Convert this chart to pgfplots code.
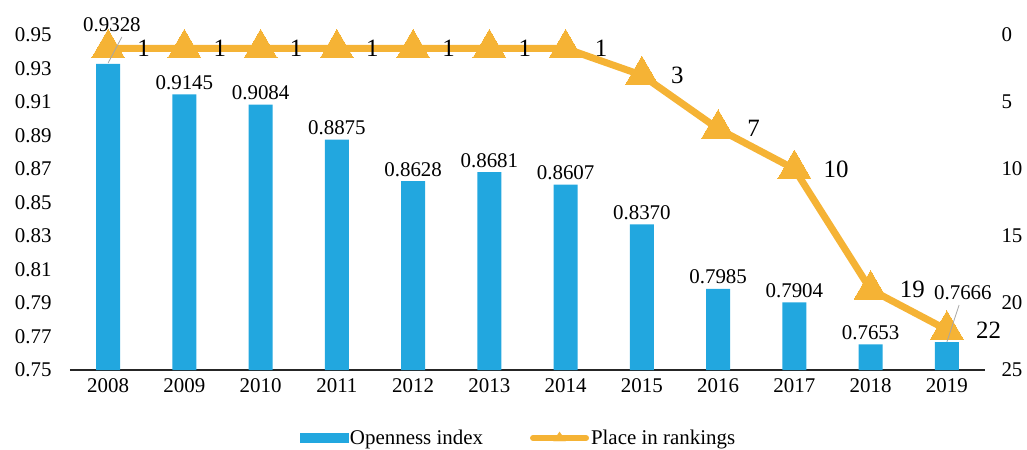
\documentclass[border=0pt]{standalone}
\usepackage{fontspec}
\setmainfont{Liberation Serif}
\usepackage{pgfplots}
\pgfplotsset{compat=1.18}
\definecolor{barblue}{HTML}{22A7DF}
\definecolor{rankorange}{HTML}{F5B335}

\begin{document}
\begin{tikzpicture}[font=\fontsize{21}{24}\selectfont]
\path[use as bounding box] (-70bp,-80bp) rectangle (957bp,370bp);
\clip (-70bp,-80bp) rectangle (957bp,370bp);

% bars: openness index (left axis)
\begin{axis}[
  name=ax, at={(0,0)}, anchor=south west,
  scale only axis, width=915bp, height=335bp,
  xmin=-0.5, xmax=11.5, ymin=0.75, ymax=0.95,
  xtick={0,...,11},
  xticklabels={2008,2009,2010,2011,2012,2013,2014,2015,2016,2017,2018,2019},
  ytick={0.75,0.77,0.79,0.81,0.83,0.85,0.87,0.89,0.91,0.93,0.95},
  yticklabel style={xshift=-15bp, /pgf/number format/.cd, fixed, fixed zerofill, precision=2},
  /pgf/number format/assume math mode=true,
  separate axis lines,
  axis x line*=bottom, axis y line*=left,
  x axis line style={-, line width=1.3bp, black!85},
  y axis line style={draw=none},
  major tick length=0pt,
  xticklabel style={yshift=-5bp},
  clip mode=individual,
]
\addplot[ybar, bar width=24bp, fill=barblue, draw=none,
  nodes near coords, point meta=explicit symbolic,
  every node near coord/.append style={anchor=south, black, yshift=1bp}]
  coordinates {
  (0,0.9328) []
  (1,0.9145) [0.9145]
  (2,0.9084) [0.9084]
  (3,0.8875) [0.8875]
  (4,0.8628) [0.8628]
  (5,0.8681) [0.8681]
  (6,0.8607) [0.8607]
  (7,0.8370) [0.8370]
  (8,0.7985) [0.7985]
  (9,0.7904) [0.7904]
  (10,0.7653) [0.7653]
  (11,0.7666) []
};
\end{axis}

% line: place in rankings (right axis, reversed)
\begin{axis}[
  at={(0,0)}, anchor=south west,
  scale only axis, width=915bp, height=335bp,
  xmin=-0.5, xmax=11.5, ymin=0, ymax=25, y dir=reverse,
  ytick={0,5,10,15,20,25},
  /pgf/number format/assume math mode=true,
  axis x line=none, axis y line*=right,
  y axis line style={draw=none},
  major tick length=0pt,
  yticklabel style={xshift=13bp},
  clip=false,
  legend columns=2,
  legend style={at={(rel axis cs:0.49,-0.203)}, anchor=center, draw=none,
    fill=none, /tikz/every even column/.append style={column sep=45bp},
    font=\fontsize{21}{24}\selectfont},
]
\addlegendimage{legend image code/.code={
  \fill[barblue] (0bp,-4.5bp) rectangle (48bp,4.5bp);}}
\addlegendentry{Openness index}
\addlegendimage{legend image code/.code={
  \draw[rankorange, line width=6bp, line cap=round] (0bp,0bp) -- (53bp,0bp);
  \fill[rankorange] (26.5bp,6bp) -- (20.5bp,-3bp) -- (32.5bp,-3bp) -- cycle;}}
\addlegendentry{Place in rankings}
\addplot[rankorange, line width=7bp, mark=triangle*, mark size=19bp,
  mark options={line width=0pt}, forget plot,
  nodes near coords, point meta=explicit symbolic,
  every node near coord/.append style={anchor=west, xshift=26bp, black,
    font=\fontsize{25}{28}\selectfont}]
  coordinates {
  (0,1) [1]
  (1,1) [1]
  (2,1) [1]
  (3,1) [1]
  (4,1) [1]
  (5,1) [1]
  (6,1) [1]
  (7,3) [3]
  (8,7) [7]
  (9,10) [10]
  (10,19) [19]
  (11,22) [22]
};
\end{axis}

% labels with leader lines, in the bar axis frame
\begin{axis}[
  at={(0,0)}, anchor=south west,
  scale only axis, width=915bp, height=335bp,
  xmin=-0.5, xmax=11.5, ymin=0.75, ymax=0.95,
  hide axis, clip=false,
]
\draw[gray!70, line width=0.8bp] (axis cs:0,0.9333) -- (axis cs:0.18,0.9488);
\node at (axis cs:0.05,0.956) {0.9328};
\draw[gray!70, line width=0.8bp] (axis cs:11,0.7667) -- (axis cs:11.16,0.7888);
\node at (axis cs:11.21,0.796) {0.7666};
\end{axis}
\end{tikzpicture}
\end{document}
